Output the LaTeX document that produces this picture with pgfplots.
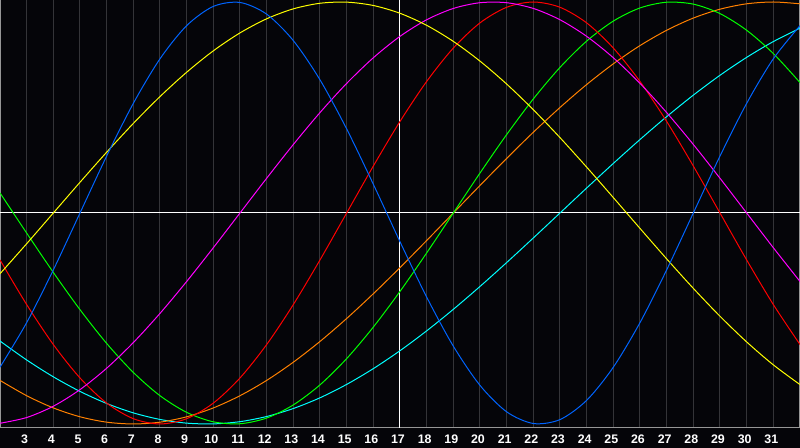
\documentclass[border=0pt]{standalone}
\usepackage{pgfplots}
\pgfplotsset{compat=1.18}
\usepackage{fontspec}
\setmainfont{Liberation Sans}
\definecolor{bg}{RGB}{5,5,9}
\definecolor{gridc}{RGB}{52,52,56}
\definecolor{bordc}{RGB}{150,150,150}
\definecolor{cblue}{RGB}{0,100,255}
\definecolor{corange}{RGB}{255,128,0}
\definecolor{ccyan}{RGB}{0,255,255}
\definecolor{cgreen}{RGB}{0,255,0}
\definecolor{cred}{RGB}{255,0,0}
\definecolor{cmag}{RGB}{255,0,255}
\definecolor{cyel}{RGB}{255,255,0}
\begin{document}
\begin{tikzpicture}
\fill[bg] (0,0) rectangle (400pt,224pt);
\path[use as bounding box] (0,0) rectangle (400pt,224pt);
\begin{axis}[
  at={(0pt,10pt)}, anchor=south west,
  scale only axis, width=400pt, height=214pt,
  xmin=2, xmax=32, ymin=-1.019, ymax=1.0095,
  axis line style={bordc, line width=0.5pt},
  xtick={3,...,31}, ytick=\empty,
  xmajorgrids, grid style={gridc, line width=0.5pt},
  major tick length=0pt,
  /pgf/number format/assume math mode=true,
  xticklabel style={font=\bfseries\fontsize{6.2}{7}\selectfont, text=white, anchor=center, yshift=-5.5pt, xshift=-1pt},
  extra x ticks={17}, extra x tick labels={},
  extra x tick style={grid style={white, line width=0.5pt}},
  extra y ticks={0}, extra y tick labels={},
  extra y tick style={ymajorgrids=true, grid style={white, line width=0.5pt}},
  every axis plot/.append style={line width=0.5pt, smooth, no markers},
]
% cyan, P=53
\addplot[ccyan] coordinates {(2,-0.6068)(3,-0.6966)(4,-0.7765)(5,-0.8456)(6,-0.9028)(7,-0.9473)(8,-0.9785)(9,-0.9960)(10,-0.9996)(11,-0.9890)(12,-0.9646)(13,-0.9267)(14,-0.8759)(15,-0.8124)(16,-0.7376)(17,-0.6527)(18,-0.5586)(19,-0.4566)(20,-0.3482)(21,-0.2349)(22,-0.1183)(23,0)(24,0.1183)(25,0.2349)(26,0.3482)(27,0.4566)(28,0.5586)(29,0.6527)(30,0.7376)(31,0.8124)(32,0.8759)};
% orange, P=48
\addplot[corange] coordinates {(2,-0.7934)(3,-0.8660)(4,-0.9239)(5,-0.9659)(6,-0.9914)(7,-1)(8,-0.9914)(9,-0.9659)(10,-0.9239)(11,-0.8660)(12,-0.7934)(13,-0.7071)(14,-0.6088)(15,-0.5)(16,-0.3827)(17,-0.2588)(18,-0.1305)(19,0)(20,0.1305)(21,0.2588)(22,0.3827)(23,0.5)(24,0.6088)(25,0.7071)(26,0.7934)(27,0.8660)(28,0.9239)(29,0.9659)(30,0.9914)(31,1)(32,0.9914)};
% green, P=33
\addplot[cgreen] coordinates {(2,0.0951)(3,-0.0951)(4,-0.2817)(5,-0.4582)(6,-0.6182)(7,-0.7557)(8,-0.8660)(9,-0.9450)(10,-0.9898)(11,-0.9989)(12,-0.9718)(13,-0.9096)(14,-0.8146)(15,-0.6901)(16,-0.5406)(17,-0.3717)(18,-0.1893)(19,0)(20,0.1893)(21,0.3717)(22,0.5406)(23,0.6901)(24,0.8146)(25,0.9096)(26,0.9718)(27,0.9989)(28,0.9898)(29,0.9450)(30,0.8660)(31,0.7557)(32,0.6182)};
% red, P=28
\addplot[cred] coordinates {(2,-0.2225)(3,-0.4339)(4,-0.6235)(5,-0.7818)(6,-0.9010)(7,-0.9749)(8,-1)(9,-0.9749)(10,-0.9010)(11,-0.7818)(12,-0.6235)(13,-0.4339)(14,-0.2225)(15,0)(16,0.2225)(17,0.4339)(18,0.6235)(19,0.7818)(20,0.9010)(21,0.9749)(22,1)(23,0.9749)(24,0.9010)(25,0.7818)(26,0.6235)(27,0.4339)(28,0.2225)(29,0)(30,-0.2225)(31,-0.4339)(32,-0.6235)};
% magenta, P=38
\addplot[cmag] coordinates {(2,-0.9966)(3,-0.9694)(4,-0.9158)(5,-0.8372)(6,-0.7357)(7,-0.6142)(8,-0.4759)(9,-0.3247)(10,-0.1646)(11,0)(12,0.1646)(13,0.3247)(14,0.4759)(15,0.6142)(16,0.7357)(17,0.8372)(18,0.9158)(19,0.9694)(20,0.9966)(21,0.9966)(22,0.9694)(23,0.9158)(24,0.8372)(25,0.7357)(26,0.6142)(27,0.4759)(28,0.3247)(29,0.1646)(30,0)(31,-0.1646)(32,-0.3247)};
% yellow, P=43
\addplot[cyel] coordinates {(2,-0.2881)(3,-0.1456)(4,0)(5,0.1456)(6,0.2881)(7,0.4245)(8,0.5517)(9,0.6671)(10,0.7686)(11,0.8535)(12,0.9204)(13,0.9675)(14,0.9940)(15,0.9993)(16,0.9834)(17,0.9465)(18,0.8894)(19,0.8133)(20,0.7198)(21,0.6111)(22,0.4894)(23,0.3572)(24,0.2174)(25,0.0730)(26,-0.0730)(27,-0.2174)(28,-0.3572)(29,-0.4894)(30,-0.6111)(31,-0.7198)(32,-0.8133)};
% blue, P=23
\addplot[cblue] coordinates {(2,-0.7308)(3,-0.5196)(4,-0.2698)(5,0)(6,0.2698)(7,0.5196)(8,0.7308)(9,0.8879)(10,0.9791)(11,0.9977)(12,0.9423)(13,0.8170)(14,0.6311)(15,0.3984)(16,0.1362)(17,-0.1362)(18,-0.3984)(19,-0.6311)(20,-0.8170)(21,-0.9423)(22,-0.9977)(23,-0.9791)(24,-0.8879)(25,-0.7308)(26,-0.5196)(27,-0.2698)(28,0)(29,0.2698)(30,0.5196)(31,0.7308)(32,0.8879)};
\end{axis}
\end{tikzpicture}
\end{document}
